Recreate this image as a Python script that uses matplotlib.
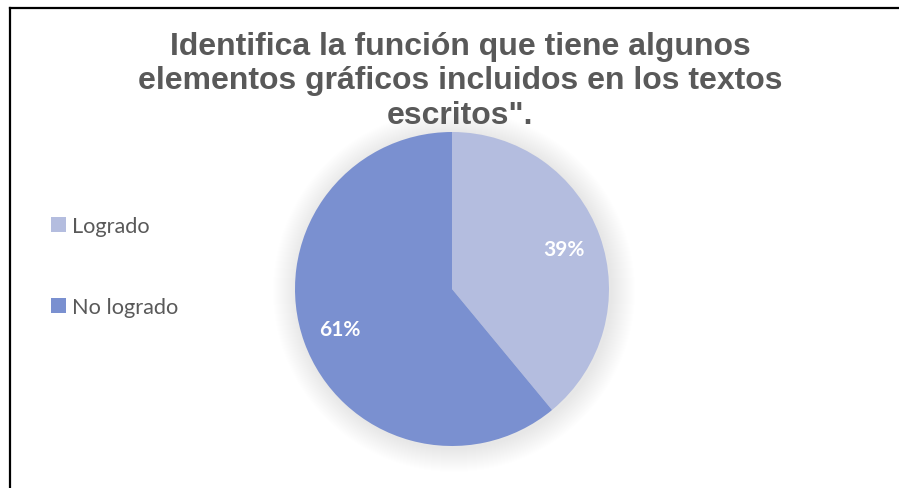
import matplotlib
matplotlib.use("Agg")
import matplotlib.pyplot as plt
from matplotlib.lines import Line2D
from matplotlib.patches import Circle

W, H = 899, 489
title = 'Identifica la función que tiene algunos\nelementos gráficos incluidos en los textos\nescritos".'
categories = ["Logrado", "No logrado"]
values = [39, 61]
colors = ["#B4BDDF", "#7A90D0"]

fig = plt.figure(figsize=(W / 100, H / 100), dpi=100)
fig.patch.set_facecolor("white")
ax = fig.add_axes([0, 0, 1, 1])

cx, cy, r = 452, H - 290, 157
# soft shadow
for k in range(24, 0, -1):
    ax.add_patch(Circle((cx + 2, cy - 2), r + k, facecolor="black", edgecolor="none",
                        alpha=0.0055, zorder=0))

wedges, texts, autotexts = ax.pie(
    values, colors=colors, startangle=90, counterclock=False,
    center=(cx, cy), radius=r, autopct="%1.0f%%", pctdistance=0.76,
    wedgeprops=dict(linewidth=0),
    textprops=dict(color="white", fontsize=15, fontweight="bold", family=["Lato", "DejaVu Sans"]),
)
for w in wedges:
    w.set_zorder(2)
for t in autotexts:
    t.set_zorder(3)

ax.set_xlim(0, W)
ax.set_ylim(0, H)
ax.set_aspect("auto")
ax.axis("off")

fig.text(460 / W, 1 - 32 / H, title, ha="center", va="top", fontsize=23,
         fontweight="bold", color="#595959", family=["Liberation Sans", "DejaVu Sans"],
         linespacing=1.19)

leg = ax.legend(wedges, categories, loc="upper left", bbox_to_anchor=(51 / W, 1 - 217 / H),
                frameon=False, handlelength=0.7, handleheight=0.7, handletextpad=0.28,
                labelspacing=2.8, borderaxespad=0, borderpad=0,
                prop=dict(family=["Lato", "DejaVu Sans"], size=15.7))
for t in leg.get_texts():
    t.set_color("#595959")

# border (left and top)
fig.add_artist(Line2D([10 / W, 10 / W], [0, 1 - 9 / H], color="black", lw=1.6))
fig.add_artist(Line2D([10 / W, 1], [1 - 9 / H, 1 - 9 / H], color="black", lw=1.6))

fig.savefig("out.png", dpi=100, facecolor="white")
